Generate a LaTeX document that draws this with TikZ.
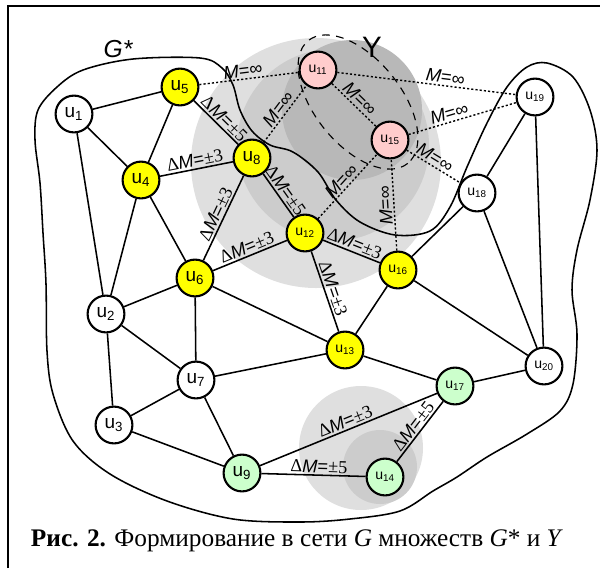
\documentclass[tikz,border=0pt]{standalone}
\usepackage{fontspec}
\setmainfont{Liberation Sans}
\newfontfamily\capserif{Liberation Serif}

\definecolor{coreyellow}{rgb}{1,1,0}
\definecolor{blockpink}{rgb}{1,0.8,0.8}
\definecolor{sparegreen}{rgb}{0.8,1,0.8}
\definecolor{shadelight}{gray}{0.875}
\definecolor{shademid}{gray}{0.8}
\definecolor{shadedark}{gray}{0.72}

% vertex names and edge weights
\newcommand{\un}[1]{u\textsubscript{#1}}
\newcommand{\dM}[1]{{\capserif Δ}\textit{M}={\capserif ±#1}}
\newcommand{\Minf}{\textit{M}=∞}

\begin{document}
\begin{tikzpicture}[x=0.025cm, y=-0.025cm,
  vertex/.style={circle, draw=black, line width=1.5pt, minimum size=0.92cm, inner sep=0pt, font=\fontsize{13.5}{13.5}\selectfont},
  vtwo/.style={font=\fontsize{10}{10}\selectfont},
  plain/.style={vertex, fill=white},
  core/.style={vertex, fill=coreyellow},
  blocked/.style={vertex, fill=blockpink},
  spare/.style={vertex, fill=sparegreen},
  link/.style={line width=1.1pt},
  inflink/.style={line width=1pt, dash pattern=on 1.5pt off 1.5pt},
  lab/.style={sloped, above, inner sep=1.2pt, font=\fontsize{13}{13}\selectfont},
]
\useasboundingbox (0,0) rectangle (600,568);

% ---- frame ----
\draw[line width=0.9pt] (8,568) -- (8,6) -- (600,6);

% ---- shaded zones ----
\fill[shadelight] (316,163) circle (125);
\fill[shademid]   (333,145) circle (96);
\fill[shadedark]  (352,110) circle (70);
\fill[shadelight] (361,448) circle (62);
\fill[shademid]   (380,467) circle (37);

% ---- set G* ----
\draw[line width=1.1pt] plot[smooth cycle, tension=0.55] coordinates {
  (133,59) (200,58) (222,68) (233,85) (240,110) (252,131) (270,145) (293,152)
  (318,172) (336,200) (360,222) (395,235) (430,231) (450,207) (467,167)
  (487,123) (507,87) (527,67) (547,63) (573,77) (590,110) (597,150)
  (590,200) (577,250) (572,290) (577,334) (573,384) (560,411) (527,434)
  (487,457) (457,477) (433,491) (400,511) (350,519) (300,522) (233,519)
  (167,501) (110,474) (73,441) (53,394) (47,351) (46,284) (43,233)
  (40,183) (35,140) (38,110) (57,87) (83,70)};
\node[font=\fontsize{17.5}{17.5}\selectfont\itshape] (gstar) at (118,49) {G*};

% ---- set Y ----
\draw[line width=0.8pt, dash pattern=on 5.5pt off 4.5pt, rotate around={-51:(358,102)}]
  (358,102) ellipse (79 and 43);
\node[font=\fontsize{21}{21}\selectfont] (yset) at (372,47) {Y};

% ---- vertices ----
\node[plain]           (u1)  at (74,114)  {\un{1}};
\node[plain]           (u2)  at (106,314) {\un{2}};
\node[plain]           (u3)  at (114,425) {\un{3}};
\node[core]            (u4)  at (141,180) {\un{4}};
\node[core]            (u5)  at (180,87)  {\un{5}};
\node[core]            (u6)  at (195,278) {\un{6}};
\node[plain]           (u7)  at (196,380) {\un{7}};
\node[core]            (u8)  at (252,158) {\un{8}};
\node[spare]           (u9)  at (242,473) {\un{9}};
\node[blocked, vtwo]   (u11) at (318,70)  {\un{11}};
\node[core, vtwo]      (u12) at (305,233) {\un{12}};
\node[core, vtwo]      (u13) at (345,350) {\un{13}};
\node[spare, vtwo]     (u14) at (385,477) {\un{14}};
\node[blocked, vtwo]   (u15) at (390,140) {\un{15}};
\node[core, vtwo]      (u16) at (398,270) {\un{16}};
\node[spare, vtwo]     (u17) at (455,386) {\un{17}};
\node[plain, vtwo]     (u18) at (477,193) {\un{18}};
\node[plain, vtwo]     (u19) at (535,97)  {\un{19}};
\node[plain, vtwo]     (u20) at (544,366) {\un{20}};

% ---- plain links ----
\foreach \a/\b in {u1/u5, u1/u4, u1/u2, u5/u4, u4/u6, u4/u2, u6/u2, u6/u7,
                   u6/u13, u16/u13, u16/u18, u16/u20, u18/u19, u18/u20,
                   u19/u20, u2/u7, u2/u3, u7/u3, u7/u13, u7/u9, u3/u9,
                   u13/u17, u17/u20}
  \draw[link] (\a) -- (\b);

% ---- weighted links ----
\draw[link] (u5) -- node[lab, pos=0.55] {\dM{5}} (u8);
\draw[link] (u4) -- node[lab, pos=0.5] {\dM{3}} (u8);
\draw[link] (u6) -- node[lab, pos=0.5] {\dM{3}} (u8);
\draw[link] (u8) -- node[lab, pos=0.5] {\dM{5}} (u12);
\draw[link] (u6) -- node[lab, pos=0.5] {\dM{3}} (u12);
\draw[link] (u12) -- node[lab, pos=0.5] {\dM{3}} (u16);
\draw[link] (u12) -- node[lab, pos=0.5] {\dM{3}} (u13);
\draw[link] (u9) -- node[lab, pos=0.5] {\dM{3}} (u17);
\draw[link] (u9) -- node[lab, pos=0.55] {\dM{5}} (u14);
\draw[link] (u14) -- node[lab, pos=0.5] {\dM{5}} (u17);

% ---- blocked links ----
\draw[inflink] (u5) -- node[lab, pos=0.45] {\Minf} (u11);
\draw[inflink] (u11) -- node[lab, pos=0.6] {\Minf} (u19);
\draw[inflink] (u15) -- node[lab, pos=0.4] {\Minf} (u19);
\draw[inflink] (u11) -- node[lab, pos=0.5] {\Minf} (u15);
\draw[inflink] (u8) -- node[lab, pos=0.5] {\Minf} (u11);
\draw[inflink] (u12) -- node[lab, pos=0.5] {\Minf} (u15);
\draw[inflink] (u16) -- node[lab, pos=0.5, allow upside down] {\Minf} (u15);
\draw[inflink] (u15) -- node[lab, pos=0.45] {\Minf} (u18);

% ---- caption ----
\node[anchor=base, font=\capserif\fontsize{18}{18}\selectfont] (caption) at (297,546)
  {\textbf{Рис. 2.} Формирование в сети \textit{G} множеств \textit{G}* и \textit{Y}};

\end{tikzpicture}
\end{document}
